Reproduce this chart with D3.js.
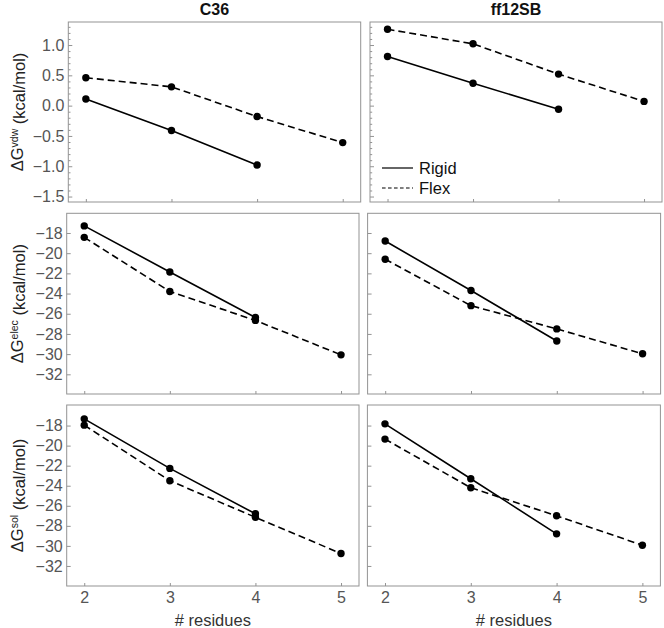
<!DOCTYPE html>
<html><head><meta charset="utf-8">
<script src="https://cdn.jsdelivr.net/npm/d3@7"></script>
<style>
body{margin:0;background:#fff;}
svg{display:block;font-family:"Liberation Sans",Arial,sans-serif;}
</style></head>
<body><svg id="c" width="664" height="628"></svg>
<script>
const residues = [2, 3, 4, 5];
const columns = ["C36", "ff12SB"];
const rowLabels = ["vdw", "elec", "sol"];

const c36VdwRigid = [0.11, -0.41, -0.98];
const c36VdwFlex = [0.46, 0.31, -0.18, -0.61];
const ffVdwRigid = [0.81, 0.37, -0.06];
const ffVdwFlex = [1.26, 1.02, 0.52, 0.07];

const c36ElecRigid = [-17.3, -21.86, -26.37];
const c36ElecFlex = [-18.43, -23.8, -26.66, -30.07];
const ffElecRigid = [-18.8, -23.7, -28.7];
const ffElecFlex = [-20.6, -25.2, -27.5, -29.97];

const c36SolRigid = [-17.33, -22.27, -26.8];
const c36SolFlex = [-17.96, -23.5, -27.15, -30.76];
const ffSolRigid = [-17.83, -23.3, -28.8];
const ffSolFlex = [-19.35, -24.2, -27.0, -29.93];

const vdwTicks = [-1.5, -1.0, -0.5, 0.0, 0.5, 1.0];
const energyTicks = [-32, -30, -28, -26, -24, -22, -20, -18];
const legendLabels = ["Rigid", "Flex"];

const panelData = [
  [[c36VdwRigid, c36VdwFlex], [ffVdwRigid, ffVdwFlex]],
  [[c36ElecRigid, c36ElecFlex], [ffElecRigid, ffElecFlex]],
  [[c36SolRigid, c36SolFlex], [ffSolRigid, ffSolFlex]]
];

const svg = d3.select("#c");
const rowsY = [[22, 202], [213.3, 394], [405, 586]];
const colsX = [[[68.3, 360.7], [370, 662]], [[66.7, 359], [367.6, 660.6]], [[66.7, 359], [367.4, 660.4]]];
const yDomains = [[-1.59, 1.38], [-33.95, -16.05], [-34.0, -15.95]];
const xDomain = [1.795, 5.21];
const frameCol = "#939393";
const tickTextCol = "#555";
const tickFont = "16px";

for (let r = 0; r < 3; r++) {
  for (let c = 0; c < 2; c++) {
    const [x0, x1] = colsX[r][c];
    const [y0, y1] = rowsY[r];
    const x = d3.scaleLinear().domain(xDomain).range([x0, x1]);
    const y = d3.scaleLinear().domain(yDomains[r]).range([y1, y0]);
    const g = svg.append("g");

    if (r === 0) {
      const minor = d3.range(-15, 14).map(v => v / 10).filter(v => !vdwTicks.some(t => Math.abs(t - v) < 1e-9));
      const ma = d3.axisLeft(y).tickValues(minor).tickSizeInner(-2.2).tickSizeOuter(0).tickFormat("");
      const mg = g.append("g").attr("transform", `translate(${x0},0)`).call(ma);
      mg.select(".domain").remove();
      mg.selectAll("line").attr("stroke", frameCol);
    }
    const ya = d3.axisLeft(y)
      .tickValues(r === 0 ? vdwTicks : energyTicks)
      .tickSizeInner(-4).tickSizeOuter(0).tickPadding(4)
      .tickFormat(c === 0 ? (r === 0 ? d3.format(".1f") : d3.format("d")) : "");
    const yg = g.append("g").attr("transform", `translate(${x0},0)`).call(ya);
    yg.select(".domain").remove();
    yg.selectAll("line").attr("stroke", frameCol);
    yg.selectAll("text").attr("fill", tickTextCol).style("font-size", tickFont).style("font-family", "'Liberation Sans',Arial,sans-serif");

    const xa = d3.axisBottom(x).tickValues(residues).tickSizeInner(-3).tickSizeOuter(0).tickPadding(5.5)
      .tickFormat(r === 2 ? d3.format("d") : "");
    const xg = g.append("g").attr("transform", `translate(0,${y1})`).call(xa);
    xg.select(".domain").remove();
    xg.selectAll("line").attr("stroke", frameCol);
    xg.selectAll("text").attr("fill", tickTextCol).style("font-size", tickFont).style("font-family", "'Liberation Sans',Arial,sans-serif");

    g.append("rect").attr("x", x0).attr("y", y0).attr("width", x1 - x0).attr("height", y1 - y0)
      .attr("fill", "none").attr("stroke", frameCol).attr("stroke-width", 1);

    const [rigid, flex] = panelData[r][c];
    const line = d3.line().x((d, i) => x(residues[i])).y(d => y(d));
    [[flex, "7,4"], [rigid, null]].forEach(([vals, dash]) => {
      g.append("path").datum(vals).attr("d", line).attr("fill", "none")
        .attr("stroke", "#000").attr("stroke-width", 1.6)
        .attr("stroke-dasharray", dash);
      g.selectAll(null).data(vals).enter().append("circle")
        .attr("cx", (d, i) => x(residues[i])).attr("cy", d => y(d)).attr("r", 3.7).attr("fill", "#000");
    });

    if (r === 0) {
      svg.append("text").attr("x", (x0 + x1) / 2).attr("y", 14.5).attr("text-anchor", "middle")
        .style("font-size", "16px").style("font-weight", "bold").attr("fill", "#111").text(columns[c]);
    }
    if (r === 2) {
      svg.append("text").attr("x", (x0 + x1) / 2).attr("y", 626).attr("text-anchor", "middle")
        .style("font-size", "16.5px").attr("fill", "#333").text("# residues");
    }
    if (c === 0) {
      const t = svg.append("text").attr("transform", `translate(22.7,${(y0 + y1) / 2}) rotate(-90)`)
        .attr("text-anchor", "middle").style("font-size", "16.5px").attr("fill", "#222");
      t.append("tspan").text("ΔG");
      t.append("tspan").attr("dy", "-0.45em").style("font-size", "10.5px").text(rowLabels[r]);
      t.append("tspan").attr("dy", "0.45em").text(" (kcal/mol)");
    }
    if (r === 0 && c === 1) {
      const lg = svg.append("g");
      [[168, null], [188, "3.6,2.4"]].forEach(([ly, dash], i) => {
        lg.append("line").attr("x1", 382).attr("x2", 413).attr("y1", ly).attr("y2", ly)
          .attr("stroke", "#000").attr("stroke-width", 1.2).attr("stroke-dasharray", dash);
        lg.append("text").attr("x", 419).attr("y", ly + 5.6).style("font-size", "16.5px").attr("fill", "#111").text(legendLabels[i]);
      });
    }
  }
}
</script></body></html>
